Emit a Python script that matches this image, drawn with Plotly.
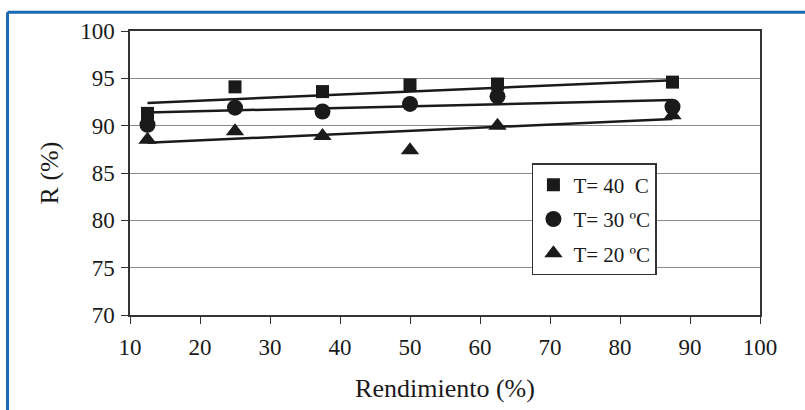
import plotly.graph_objects as go

# Data
rend = [12.5, 25, 37.5, 50, 62.5, 87.5]
r_40 = [91.3, 94.1, 93.6, 94.3, 94.4, 94.6]
r_30 = [90.1, 91.9, 91.5, 92.3, 93.1, 92.0]
r_20 = [88.5, 89.4, 88.9, 87.4, 90.0, 91.1]

trend_x = [12.5, 87.5]
trend_40 = [92.4, 94.8]
trend_30 = [91.4, 92.7]
trend_20 = [88.2, 90.7]

names = ["T= 40 \u00a0C", "T= 30 ºC", "T= 20 ºC"]
x_ticks = [10, 20, 30, 40, 50, 60, 70, 80, 90, 100]
y_ticks = [70, 75, 80, 85, 90, 95, 100]

FONT = "Liberation Serif"
INK = "#1a1a1a"

fig = go.Figure()

for ty in (trend_40, trend_30, trend_20):
    fig.add_trace(go.Scatter(x=trend_x, y=ty, mode="lines",
                             line=dict(color=INK, width=2.5),
                             showlegend=False, hoverinfo="skip"))

specs = [(r_40, "square", 13, names[0], "g1"),
         (r_30, "circle", 16, names[1], "g2"),
         (r_20, "triangle-up", 16, names[2], "g3")]
for ys, sym, sz, nm, grp in specs:
    fig.add_trace(go.Scatter(x=rend, y=ys, mode="markers", name=nm,
                             legendgroup=grp,
                             marker=dict(symbol=sym, size=sz, color=INK,
                                         line=dict(width=0))))

# Blue frame around the figure (top and left edges)
BLUE = "#1a6ab3"
fig.add_shape(type="line", xref="paper", yref="paper",
              x0=-0.1944, x1=1.2, y0=1.066, y1=1.066,
              line=dict(color=BLUE, width=3))
fig.add_shape(type="line", xref="paper", yref="paper",
              x0=-0.1944, x1=-0.1944, y0=1.066, y1=-0.4,
              line=dict(color=BLUE, width=3))

fig.update_layout(
    width=805, height=410,
    margin=dict(l=130, r=45, t=31, b=91),
    paper_bgcolor="white", plot_bgcolor="white",
    font=dict(family=FONT, size=22, color=INK),
    legend=dict(x=0.638, y=0.535, xanchor="left", yanchor="top",
                bgcolor="white", bordercolor="#333333", borderwidth=1.5,
                font=dict(family=FONT, size=21, color=INK),
                tracegroupgap=4, itemwidth=30),
    xaxis=dict(range=[10, 100], tickvals=x_ticks, ticks="outside",
               ticklen=7, tickcolor="#333333", tickwidth=1,
               ticklabelstandoff=4,
               showgrid=False, zeroline=False,
               showline=True, linecolor="#333333", linewidth=1.5, mirror=True,
               tickfont=dict(family=FONT, size=23, color=INK),
               title=dict(text="Rendimiento (%)", standoff=19,
                          font=dict(family=FONT, size=26, color=INK))),
    yaxis=dict(range=[70, 100], tickvals=y_ticks, ticks="outside",
               ticklen=7, tickcolor="#333333", tickwidth=1,
               ticklabelstandoff=2,
               showgrid=True, gridcolor="#8a8a8a", gridwidth=1,
               zeroline=False,
               showline=True, linecolor="#333333", linewidth=1.5, mirror=True,
               tickfont=dict(family=FONT, size=23, color=INK),
               title=dict(text="R (%)", standoff=14,
                          font=dict(family=FONT, size=26, color=INK))),
)

fig.write_html("out.html")
